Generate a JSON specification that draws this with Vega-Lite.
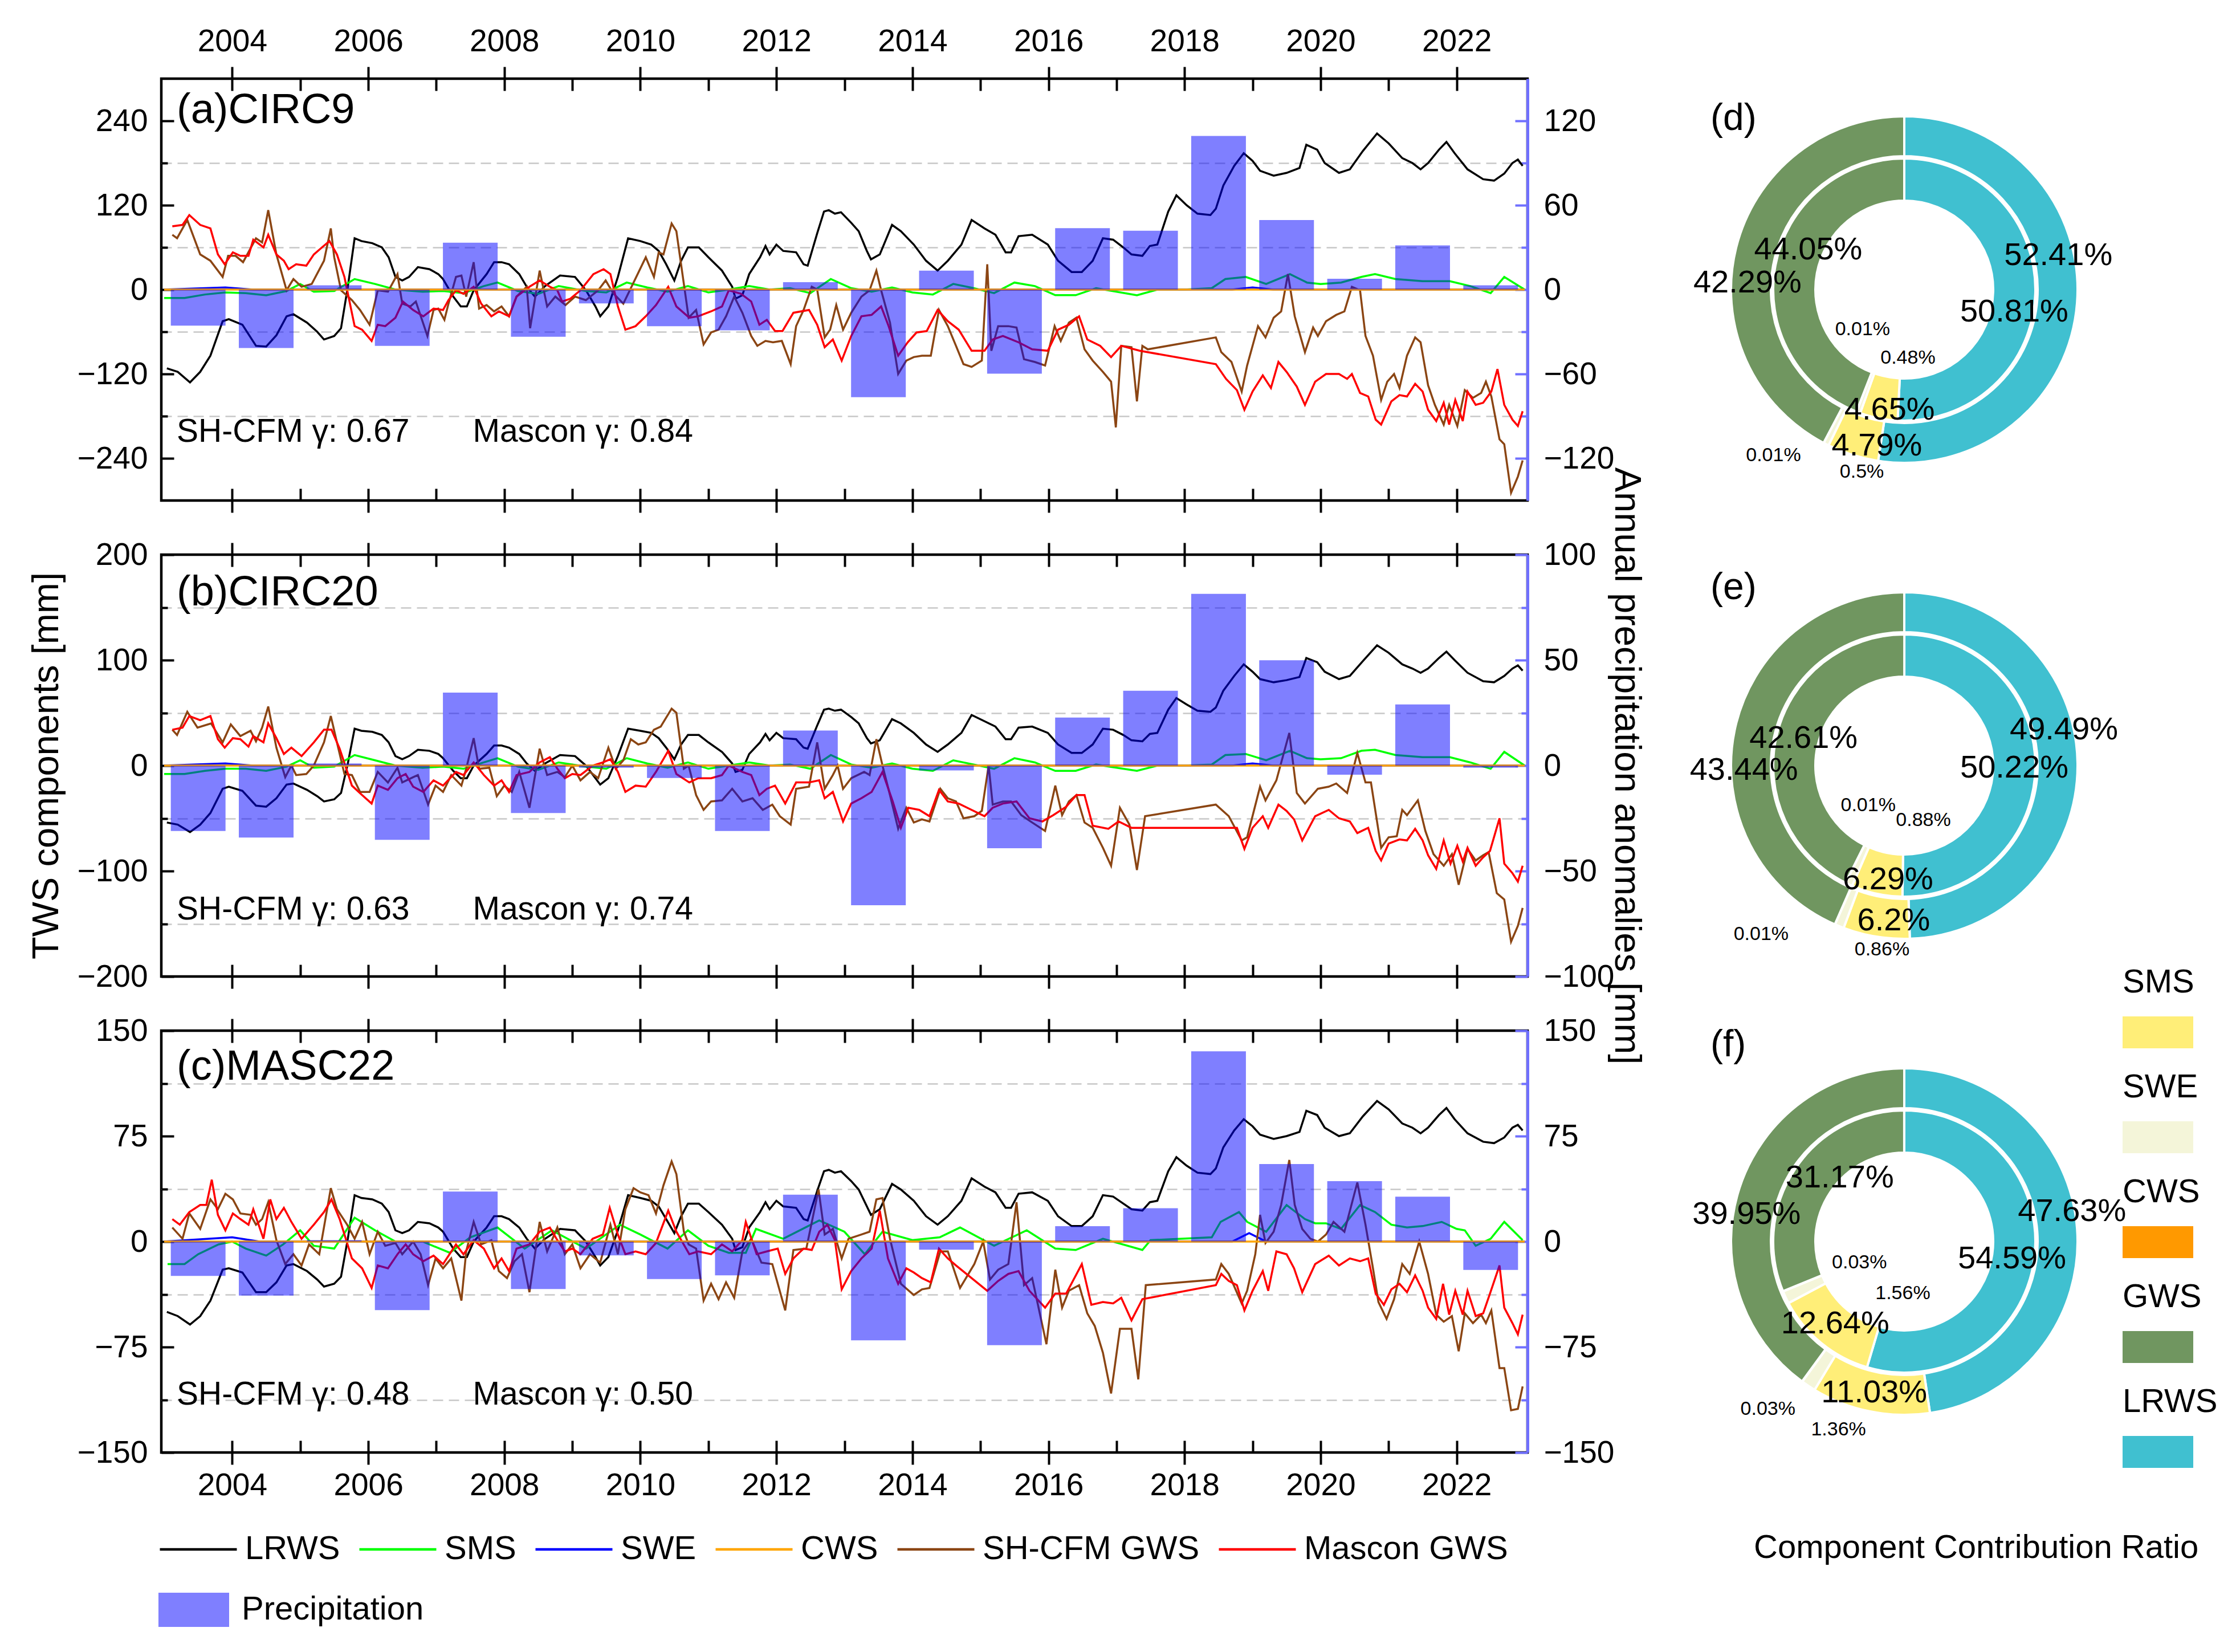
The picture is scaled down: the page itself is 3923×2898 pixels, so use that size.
{
"$schema":"https://vega.github.io/schema/vega-lite/v6.json",
"background":"white",
"padding":{"left":46,"top":42,"right":5,"bottom":5},
"config":{"font":"Liberation Sans","axis":{"labelFont":"Liberation Sans","titleFont":"Liberation Sans"},"legend":{"labelFont":"Liberation Sans","titleFont":"Liberation Sans"},"title":{"font":"Liberation Sans","subtitleFont":"Liberation Sans"},"text":{"font":"Liberation Sans"}},
"datasets":{
"aL":[{"t":2003.04,"v":-112},{"t":2003.2,"v":-117},{"t":2003.38,"v":-132},{"t":2003.53,"v":-117},{"t":2003.68,"v":-94},{"t":2003.86,"v":-45},{"t":2003.95,"v":-42},{"t":2004.15,"v":-50},{"t":2004.35,"v":-80},{"t":2004.5,"v":-81},{"t":2004.65,"v":-65},{"t":2004.8,"v":-38},{"t":2004.9,"v":-35},{"t":2005.1,"v":-47},{"t":2005.25,"v":-60},{"t":2005.35,"v":-71},{"t":2005.5,"v":-66},{"t":2005.6,"v":-55},{"t":2005.7,"v":4},{"t":2005.8,"v":73},{"t":2005.9,"v":69},{"t":2006.06,"v":66},{"t":2006.2,"v":60},{"t":2006.3,"v":46},{"t":2006.4,"v":18},{"t":2006.5,"v":13},{"t":2006.6,"v":18},{"t":2006.73,"v":32},{"t":2006.9,"v":29},{"t":2007.03,"v":22},{"t":2007.1,"v":15},{"t":2007.25,"v":-10},{"t":2007.36,"v":-24},{"t":2007.45,"v":-24},{"t":2007.55,"v":-1},{"t":2007.74,"v":22},{"t":2007.85,"v":39},{"t":2007.96,"v":39},{"t":2008.07,"v":36},{"t":2008.22,"v":22},{"t":2008.33,"v":4},{"t":2008.45,"v":-10},{"t":2008.6,"v":5},{"t":2008.82,"v":20},{"t":2009.04,"v":18},{"t":2009.2,"v":-1},{"t":2009.34,"v":-24},{"t":2009.41,"v":-38},{"t":2009.53,"v":-24},{"t":2009.67,"v":18},{"t":2009.82,"v":73},{"t":2010.0,"v":69},{"t":2010.16,"v":64},{"t":2010.27,"v":55},{"t":2010.38,"v":36},{"t":2010.5,"v":13},{"t":2010.6,"v":41},{"t":2010.7,"v":60},{"t":2010.86,"v":60},{"t":2011.0,"v":46},{"t":2011.2,"v":27},{"t":2011.35,"v":4},{"t":2011.4,"v":-13},{"t":2011.5,"v":-8},{"t":2011.6,"v":22},{"t":2011.76,"v":46},{"t":2011.84,"v":62},{"t":2011.9,"v":50},{"t":2012.0,"v":64},{"t":2012.1,"v":55},{"t":2012.29,"v":53},{"t":2012.4,"v":36},{"t":2012.46,"v":34},{"t":2012.6,"v":80},{"t":2012.7,"v":111},{"t":2012.77,"v":113},{"t":2012.86,"v":108},{"t":2012.95,"v":110},{"t":2013.1,"v":95},{"t":2013.21,"v":83},{"t":2013.33,"v":55},{"t":2013.39,"v":43},{"t":2013.52,"v":50},{"t":2013.7,"v":92},{"t":2013.83,"v":83},{"t":2014.02,"v":64},{"t":2014.2,"v":41},{"t":2014.37,"v":27},{"t":2014.52,"v":41},{"t":2014.72,"v":64},{"t":2014.87,"v":99},{"t":2015.06,"v":87},{"t":2015.22,"v":78},{"t":2015.37,"v":53},{"t":2015.45,"v":53},{"t":2015.56,"v":76},{"t":2015.76,"v":78},{"t":2015.99,"v":64},{"t":2016.14,"v":41},{"t":2016.34,"v":25},{"t":2016.49,"v":25},{"t":2016.65,"v":41},{"t":2016.8,"v":73},{"t":2016.95,"v":71},{"t":2017.1,"v":60},{"t":2017.22,"v":50},{"t":2017.38,"v":48},{"t":2017.49,"v":62},{"t":2017.6,"v":64},{"t":2017.76,"v":111},{"t":2017.88,"v":134},{"t":2018.03,"v":120},{"t":2018.19,"v":108},{"t":2018.38,"v":106},{"t":2018.46,"v":115},{"t":2018.57,"v":148},{"t":2018.73,"v":176},{"t":2018.87,"v":194},{"t":2019.0,"v":183},{"t":2019.11,"v":169},{"t":2019.31,"v":162},{"t":2019.5,"v":166},{"t":2019.69,"v":173},{"t":2019.79,"v":206},{"t":2019.95,"v":199},{"t":2020.06,"v":180},{"t":2020.27,"v":166},{"t":2020.43,"v":171},{"t":2020.62,"v":197},{"t":2020.83,"v":222},{"t":2021.0,"v":208},{"t":2021.2,"v":187},{"t":2021.35,"v":180},{"t":2021.47,"v":171},{"t":2021.58,"v":180},{"t":2021.74,"v":199},{"t":2021.85,"v":210},{"t":2021.97,"v":194},{"t":2022.16,"v":171},{"t":2022.39,"v":157},{"t":2022.55,"v":155},{"t":2022.7,"v":165},{"t":2022.82,"v":180},{"t":2022.9,"v":185},{"t":2022.97,"v":176}],
"bL":[{"t":2003.04,"v":-54},{"t":2003.2,"v":-56},{"t":2003.38,"v":-63},{"t":2003.53,"v":-56},{"t":2003.68,"v":-45},{"t":2003.86,"v":-22},{"t":2003.95,"v":-20},{"t":2004.15,"v":-24},{"t":2004.35,"v":-38},{"t":2004.5,"v":-39},{"t":2004.65,"v":-31},{"t":2004.8,"v":-18},{"t":2004.9,"v":-17},{"t":2005.1,"v":-23},{"t":2005.25,"v":-29},{"t":2005.35,"v":-34},{"t":2005.5,"v":-32},{"t":2005.6,"v":-26},{"t":2005.7,"v":2},{"t":2005.8,"v":35},{"t":2005.9,"v":33},{"t":2006.06,"v":32},{"t":2006.2,"v":29},{"t":2006.3,"v":22},{"t":2006.4,"v":9},{"t":2006.5,"v":6},{"t":2006.6,"v":9},{"t":2006.73,"v":15},{"t":2006.9,"v":14},{"t":2007.03,"v":11},{"t":2007.1,"v":7},{"t":2007.25,"v":-5},{"t":2007.36,"v":-12},{"t":2007.45,"v":-12},{"t":2007.55,"v":0},{"t":2007.74,"v":11},{"t":2007.85,"v":19},{"t":2007.96,"v":19},{"t":2008.07,"v":17},{"t":2008.22,"v":11},{"t":2008.33,"v":2},{"t":2008.45,"v":-5},{"t":2008.6,"v":2},{"t":2008.82,"v":10},{"t":2009.04,"v":9},{"t":2009.2,"v":0},{"t":2009.34,"v":-12},{"t":2009.41,"v":-18},{"t":2009.53,"v":-12},{"t":2009.67,"v":9},{"t":2009.82,"v":35},{"t":2010.0,"v":33},{"t":2010.16,"v":31},{"t":2010.27,"v":26},{"t":2010.38,"v":17},{"t":2010.5,"v":6},{"t":2010.6,"v":20},{"t":2010.7,"v":29},{"t":2010.86,"v":29},{"t":2011.0,"v":22},{"t":2011.2,"v":13},{"t":2011.35,"v":2},{"t":2011.4,"v":-6},{"t":2011.5,"v":-4},{"t":2011.6,"v":11},{"t":2011.76,"v":22},{"t":2011.84,"v":30},{"t":2011.9,"v":24},{"t":2012.0,"v":31},{"t":2012.1,"v":26},{"t":2012.29,"v":25},{"t":2012.4,"v":17},{"t":2012.46,"v":16},{"t":2012.6,"v":38},{"t":2012.7,"v":53},{"t":2012.77,"v":54},{"t":2012.86,"v":52},{"t":2012.95,"v":53},{"t":2013.1,"v":46},{"t":2013.21,"v":40},{"t":2013.33,"v":26},{"t":2013.39,"v":21},{"t":2013.52,"v":24},{"t":2013.7,"v":44},{"t":2013.83,"v":40},{"t":2014.02,"v":31},{"t":2014.2,"v":20},{"t":2014.37,"v":13},{"t":2014.52,"v":20},{"t":2014.72,"v":31},{"t":2014.87,"v":48},{"t":2015.06,"v":42},{"t":2015.22,"v":37},{"t":2015.37,"v":25},{"t":2015.45,"v":25},{"t":2015.56,"v":36},{"t":2015.76,"v":37},{"t":2015.99,"v":31},{"t":2016.14,"v":20},{"t":2016.34,"v":12},{"t":2016.49,"v":12},{"t":2016.65,"v":20},{"t":2016.8,"v":35},{"t":2016.95,"v":34},{"t":2017.1,"v":29},{"t":2017.22,"v":24},{"t":2017.38,"v":23},{"t":2017.49,"v":30},{"t":2017.6,"v":31},{"t":2017.76,"v":53},{"t":2017.88,"v":64},{"t":2018.03,"v":58},{"t":2018.19,"v":52},{"t":2018.38,"v":51},{"t":2018.46,"v":55},{"t":2018.57,"v":71},{"t":2018.73,"v":85},{"t":2018.87,"v":96},{"t":2019.0,"v":89},{"t":2019.11,"v":82},{"t":2019.31,"v":79},{"t":2019.5,"v":81},{"t":2019.69,"v":84},{"t":2019.79,"v":102},{"t":2019.95,"v":98},{"t":2020.06,"v":89},{"t":2020.27,"v":82},{"t":2020.43,"v":85},{"t":2020.62,"v":99},{"t":2020.83,"v":114},{"t":2021.0,"v":107},{"t":2021.2,"v":96},{"t":2021.35,"v":92},{"t":2021.47,"v":88},{"t":2021.58,"v":92},{"t":2021.74,"v":102},{"t":2021.85,"v":108},{"t":2021.97,"v":100},{"t":2022.16,"v":88},{"t":2022.39,"v":80},{"t":2022.55,"v":79},{"t":2022.7,"v":85},{"t":2022.82,"v":92},{"t":2022.9,"v":95},{"t":2022.97,"v":90}],
"cL":[{"t":2003.04,"v":-50},{"t":2003.2,"v":-53},{"t":2003.38,"v":-59},{"t":2003.53,"v":-53},{"t":2003.68,"v":-42},{"t":2003.86,"v":-20},{"t":2003.95,"v":-19},{"t":2004.15,"v":-22},{"t":2004.35,"v":-36},{"t":2004.5,"v":-36},{"t":2004.65,"v":-29},{"t":2004.8,"v":-17},{"t":2004.9,"v":-16},{"t":2005.1,"v":-21},{"t":2005.25,"v":-27},{"t":2005.35,"v":-32},{"t":2005.5,"v":-30},{"t":2005.6,"v":-25},{"t":2005.7,"v":2},{"t":2005.8,"v":33},{"t":2005.9,"v":31},{"t":2006.06,"v":30},{"t":2006.2,"v":27},{"t":2006.3,"v":21},{"t":2006.4,"v":8},{"t":2006.5,"v":6},{"t":2006.6,"v":8},{"t":2006.73,"v":14},{"t":2006.9,"v":13},{"t":2007.03,"v":10},{"t":2007.1,"v":7},{"t":2007.25,"v":-5},{"t":2007.36,"v":-11},{"t":2007.45,"v":-11},{"t":2007.55,"v":0},{"t":2007.74,"v":10},{"t":2007.85,"v":18},{"t":2007.96,"v":18},{"t":2008.07,"v":16},{"t":2008.22,"v":10},{"t":2008.33,"v":2},{"t":2008.45,"v":-5},{"t":2008.6,"v":2},{"t":2008.82,"v":9},{"t":2009.04,"v":8},{"t":2009.2,"v":0},{"t":2009.34,"v":-11},{"t":2009.41,"v":-17},{"t":2009.53,"v":-11},{"t":2009.67,"v":8},{"t":2009.82,"v":33},{"t":2010.0,"v":31},{"t":2010.16,"v":29},{"t":2010.27,"v":25},{"t":2010.38,"v":16},{"t":2010.5,"v":6},{"t":2010.6,"v":18},{"t":2010.7,"v":27},{"t":2010.86,"v":27},{"t":2011.0,"v":21},{"t":2011.2,"v":12},{"t":2011.35,"v":2},{"t":2011.4,"v":-6},{"t":2011.5,"v":-4},{"t":2011.6,"v":10},{"t":2011.76,"v":21},{"t":2011.84,"v":28},{"t":2011.9,"v":23},{"t":2012.0,"v":29},{"t":2012.1,"v":25},{"t":2012.29,"v":24},{"t":2012.4,"v":16},{"t":2012.46,"v":15},{"t":2012.6,"v":36},{"t":2012.7,"v":50},{"t":2012.77,"v":51},{"t":2012.86,"v":49},{"t":2012.95,"v":50},{"t":2013.1,"v":43},{"t":2013.21,"v":37},{"t":2013.33,"v":25},{"t":2013.39,"v":19},{"t":2013.52,"v":23},{"t":2013.7,"v":41},{"t":2013.83,"v":37},{"t":2014.02,"v":29},{"t":2014.2,"v":18},{"t":2014.37,"v":12},{"t":2014.52,"v":18},{"t":2014.72,"v":29},{"t":2014.87,"v":45},{"t":2015.06,"v":39},{"t":2015.22,"v":35},{"t":2015.37,"v":24},{"t":2015.45,"v":24},{"t":2015.56,"v":34},{"t":2015.76,"v":35},{"t":2015.99,"v":29},{"t":2016.14,"v":18},{"t":2016.34,"v":11},{"t":2016.49,"v":11},{"t":2016.65,"v":18},{"t":2016.8,"v":33},{"t":2016.95,"v":32},{"t":2017.1,"v":27},{"t":2017.22,"v":23},{"t":2017.38,"v":22},{"t":2017.49,"v":28},{"t":2017.6,"v":29},{"t":2017.76,"v":50},{"t":2017.88,"v":60},{"t":2018.03,"v":54},{"t":2018.19,"v":49},{"t":2018.38,"v":48},{"t":2018.46,"v":52},{"t":2018.57,"v":67},{"t":2018.73,"v":79},{"t":2018.87,"v":87},{"t":2019.0,"v":82},{"t":2019.11,"v":76},{"t":2019.31,"v":73},{"t":2019.5,"v":75},{"t":2019.69,"v":78},{"t":2019.79,"v":93},{"t":2019.95,"v":90},{"t":2020.06,"v":81},{"t":2020.27,"v":75},{"t":2020.43,"v":77},{"t":2020.62,"v":89},{"t":2020.83,"v":100},{"t":2021.0,"v":94},{"t":2021.2,"v":84},{"t":2021.35,"v":81},{"t":2021.47,"v":77},{"t":2021.58,"v":81},{"t":2021.74,"v":90},{"t":2021.85,"v":95},{"t":2021.97,"v":87},{"t":2022.16,"v":77},{"t":2022.39,"v":71},{"t":2022.55,"v":70},{"t":2022.7,"v":74},{"t":2022.82,"v":81},{"t":2022.9,"v":83},{"t":2022.97,"v":79}],
"aS":[{"t":2003.0,"v":-12},{"t":2003.3,"v":-12},{"t":2003.6,"v":-7},{"t":2003.9,"v":-4},{"t":2004.2,"v":-5},{"t":2004.5,"v":-8},{"t":2004.8,"v":-2},{"t":2005.0,"v":8},{"t":2005.2,"v":-3},{"t":2005.5,"v":-2},{"t":2005.8,"v":15},{"t":2006.1,"v":8},{"t":2006.4,"v":0},{"t":2006.8,"v":-3},{"t":2007.1,"v":-2},{"t":2007.4,"v":-5},{"t":2007.7,"v":5},{"t":2007.9,"v":10},{"t":2008.2,"v":-2},{"t":2008.5,"v":-6},{"t":2008.8,"v":5},{"t":2009.2,"v":-2},{"t":2009.5,"v":-4},{"t":2009.8,"v":10},{"t":2010.1,"v":3},{"t":2010.4,"v":-3},{"t":2010.7,"v":5},{"t":2011.0,"v":-4},{"t":2011.3,"v":0},{"t":2011.6,"v":5},{"t":2011.9,"v":0},{"t":2012.2,"v":2},{"t":2012.5,"v":-5},{"t":2012.8,"v":15},{"t":2013.1,"v":2},{"t":2013.4,"v":-3},{"t":2013.7,"v":3},{"t":2014.0,"v":-4},{"t":2014.3,"v":-7},{"t":2014.6,"v":8},{"t":2014.9,"v":2},{"t":2015.2,"v":-5},{"t":2015.5,"v":10},{"t":2015.8,"v":5},{"t":2016.1,"v":-8},{"t":2016.4,"v":-8},{"t":2016.7,"v":2},{"t":2017.0,"v":-3},{"t":2017.3,"v":-8},{"t":2017.6,"v":0},{"t":2018.0,"v":0},{"t":2018.4,"v":2},{"t":2018.6,"v":15},{"t":2018.9,"v":18},{"t":2019.2,"v":8},{"t":2019.55,"v":22},{"t":2019.8,"v":10},{"t":2020.0,"v":8},{"t":2020.3,"v":10},{"t":2020.6,"v":18},{"t":2020.8,"v":22},{"t":2021.1,"v":15},{"t":2021.5,"v":12},{"t":2021.9,"v":12},{"t":2022.2,"v":5},{"t":2022.5,"v":-5},{"t":2022.7,"v":18},{"t":2023.0,"v":0}],
"bS":[{"t":2003.0,"v":-8},{"t":2003.3,"v":-8},{"t":2003.6,"v":-5},{"t":2003.9,"v":-3},{"t":2004.2,"v":-3},{"t":2004.5,"v":-5},{"t":2004.8,"v":-1},{"t":2005.0,"v":5},{"t":2005.2,"v":-2},{"t":2005.5,"v":-1},{"t":2005.8,"v":10},{"t":2006.1,"v":5},{"t":2006.4,"v":0},{"t":2006.8,"v":-2},{"t":2007.1,"v":-1},{"t":2007.4,"v":-3},{"t":2007.7,"v":3},{"t":2007.9,"v":7},{"t":2008.2,"v":-1},{"t":2008.5,"v":-4},{"t":2008.8,"v":3},{"t":2009.2,"v":-1},{"t":2009.5,"v":-3},{"t":2009.8,"v":7},{"t":2010.1,"v":2},{"t":2010.4,"v":-2},{"t":2010.7,"v":3},{"t":2011.0,"v":-3},{"t":2011.3,"v":0},{"t":2011.6,"v":3},{"t":2011.9,"v":0},{"t":2012.2,"v":1},{"t":2012.5,"v":-3},{"t":2012.8,"v":10},{"t":2013.1,"v":1},{"t":2013.4,"v":-2},{"t":2013.7,"v":2},{"t":2014.0,"v":-3},{"t":2014.3,"v":-5},{"t":2014.6,"v":5},{"t":2014.9,"v":1},{"t":2015.2,"v":-3},{"t":2015.5,"v":7},{"t":2015.8,"v":3},{"t":2016.1,"v":-5},{"t":2016.4,"v":-5},{"t":2016.7,"v":1},{"t":2017.0,"v":-2},{"t":2017.3,"v":-5},{"t":2017.6,"v":0},{"t":2018.0,"v":0},{"t":2018.4,"v":1},{"t":2018.6,"v":10},{"t":2018.9,"v":11},{"t":2019.2,"v":5},{"t":2019.55,"v":14},{"t":2019.8,"v":7},{"t":2020.0,"v":6},{"t":2020.3,"v":7},{"t":2020.6,"v":14},{"t":2020.8,"v":15},{"t":2021.1,"v":10},{"t":2021.5,"v":8},{"t":2021.9,"v":8},{"t":2022.2,"v":3},{"t":2022.5,"v":-3},{"t":2022.7,"v":13},{"t":2023.0,"v":0}],
"cS":[{"t":2003.05,"v":-16},{"t":2003.3,"v":-16},{"t":2003.5,"v":-9},{"t":2003.8,"v":-2},{"t":2004.0,"v":0},{"t":2004.2,"v":-5},{"t":2004.5,"v":-10},{"t":2004.75,"v":-2},{"t":2005.0,"v":8},{"t":2005.2,"v":-3},{"t":2005.5,"v":-5},{"t":2005.8,"v":17},{"t":2006.1,"v":8},{"t":2006.4,"v":0},{"t":2006.8,"v":0},{"t":2007.2,"v":-8},{"t":2007.5,"v":3},{"t":2007.9,"v":10},{"t":2008.3,"v":-5},{"t":2008.7,"v":8},{"t":2009.2,"v":-5},{"t":2009.7,"v":12},{"t":2010.0,"v":5},{"t":2010.4,"v":-5},{"t":2010.7,"v":8},{"t":2011.0,"v":-3},{"t":2011.3,"v":-8},{"t":2011.55,"v":-8},{"t":2011.7,"v":9},{"t":2012.1,"v":2},{"t":2012.63,"v":15},{"t":2013.0,"v":7},{"t":2013.3,"v":-9},{"t":2013.56,"v":7},{"t":2014.0,"v":1},{"t":2014.4,"v":3},{"t":2014.7,"v":10},{"t":2015.2,"v":-3},{"t":2015.68,"v":8},{"t":2016.1,"v":-5},{"t":2016.4,"v":-6},{"t":2016.8,"v":2},{"t":2017.38,"v":-6},{"t":2017.5,"v":1},{"t":2018.4,"v":3},{"t":2018.53,"v":14},{"t":2018.8,"v":21},{"t":2018.92,"v":14},{"t":2019.2,"v":7},{"t":2019.5,"v":26},{"t":2019.77,"v":16},{"t":2019.92,"v":13},{"t":2020.08,"v":13},{"t":2020.3,"v":9},{"t":2020.58,"v":26},{"t":2020.8,"v":21},{"t":2021.04,"v":12},{"t":2021.27,"v":10},{"t":2021.5,"v":11},{"t":2021.78,"v":14},{"t":2022.0,"v":9},{"t":2022.12,"v":8},{"t":2022.28,"v":-3},{"t":2022.5,"v":2},{"t":2022.7,"v":14},{"t":2022.97,"v":1}],
"aW":[{"t":2003.0,"v":0},{"t":2003.9,"v":3},{"t":2004.3,"v":0},{"t":2018.7,"v":0},{"t":2019.0,"v":3},{"t":2019.3,"v":0},{"t":2023.0,"v":0}],
"bW":[{"t":2003.0,"v":0},{"t":2003.9,"v":2},{"t":2004.3,"v":0},{"t":2018.7,"v":0},{"t":2019.0,"v":2},{"t":2019.3,"v":0},{"t":2023.0,"v":0}],
"cW":[{"t":2003.0,"v":0},{"t":2004.0,"v":3},{"t":2004.4,"v":0},{"t":2018.7,"v":0},{"t":2018.95,"v":6},{"t":2019.2,"v":0},{"t":2023.0,"v":0}],
"zC":[{"t":2003.0,"v":0},{"t":2023.0,"v":0}],
"aB":[{"t":2003.12,"v":78},{"t":2003.19,"v":73},{"t":2003.34,"v":99},{"t":2003.53,"v":50},{"t":2003.68,"v":41},{"t":2003.86,"v":18},{"t":2003.94,"v":48},{"t":2004.05,"v":48},{"t":2004.16,"v":39},{"t":2004.35,"v":73},{"t":2004.44,"v":67},{"t":2004.53,"v":113},{"t":2004.65,"v":50},{"t":2004.8,"v":-1},{"t":2004.9,"v":15},{"t":2005.02,"v":4},{"t":2005.17,"v":8},{"t":2005.35,"v":41},{"t":2005.45,"v":87},{"t":2005.5,"v":46},{"t":2005.6,"v":-1},{"t":2005.76,"v":-15},{"t":2005.88,"v":-29},{"t":2006.02,"v":-50},{"t":2006.14,"v":-1},{"t":2006.29,"v":-3},{"t":2006.43,"v":22},{"t":2006.5,"v":-20},{"t":2006.62,"v":-24},{"t":2006.7,"v":-17},{"t":2006.87,"v":-66},{"t":2006.96,"v":-29},{"t":2007.03,"v":-27},{"t":2007.12,"v":-43},{"t":2007.18,"v":-20},{"t":2007.29,"v":18},{"t":2007.37,"v":20},{"t":2007.44,"v":-10},{"t":2007.55,"v":39},{"t":2007.63,"v":-27},{"t":2007.74,"v":-22},{"t":2007.85,"v":-31},{"t":2007.96,"v":-24},{"t":2008.07,"v":-38},{"t":2008.18,"v":-10},{"t":2008.33,"v":4},{"t":2008.38,"v":-55},{"t":2008.52,"v":27},{"t":2008.63,"v":-24},{"t":2008.75,"v":-10},{"t":2008.9,"v":-22},{"t":2009.04,"v":-10},{"t":2009.2,"v":-15},{"t":2009.38,"v":-1},{"t":2009.49,"v":13},{"t":2009.6,"v":-5},{"t":2009.75,"v":-20},{"t":2009.9,"v":10},{"t":2010.08,"v":46},{"t":2010.2,"v":18},{"t":2010.27,"v":53},{"t":2010.34,"v":50},{"t":2010.46,"v":94},{"t":2010.53,"v":83},{"t":2010.64,"v":8},{"t":2010.71,"v":-40},{"t":2010.82,"v":-29},{"t":2010.93,"v":-78},{"t":2011.04,"v":-61},{"t":2011.15,"v":-57},{"t":2011.26,"v":-38},{"t":2011.38,"v":-10},{"t":2011.5,"v":-33},{"t":2011.63,"v":-66},{"t":2011.72,"v":-80},{"t":2011.84,"v":-73},{"t":2011.95,"v":-75},{"t":2012.08,"v":-73},{"t":2012.21,"v":-106},{"t":2012.29,"v":-52},{"t":2012.4,"v":-29},{"t":2012.52,"v":4},{"t":2012.6,"v":0},{"t":2012.71,"v":-68},{"t":2012.79,"v":-57},{"t":2012.88,"v":-22},{"t":2012.98,"v":-57},{"t":2013.1,"v":-33},{"t":2013.25,"v":-10},{"t":2013.37,"v":-1},{"t":2013.47,"v":27},{"t":2013.54,"v":-1},{"t":2013.67,"v":-47},{"t":2013.79,"v":-120},{"t":2013.91,"v":-101},{"t":2014.02,"v":-96},{"t":2014.14,"v":-94},{"t":2014.27,"v":-94},{"t":2014.39,"v":-29},{"t":2014.52,"v":-52},{"t":2014.64,"v":-80},{"t":2014.75,"v":-106},{"t":2014.87,"v":-110},{"t":2015.02,"v":-101},{"t":2015.1,"v":36},{"t":2015.16,"v":-87},{"t":2015.26,"v":-52},{"t":2015.41,"v":-52},{"t":2015.53,"v":-54},{"t":2015.64,"v":-99},{"t":2015.8,"v":-103},{"t":2015.95,"v":-108},{"t":2016.09,"v":-52},{"t":2016.18,"v":-73},{"t":2016.3,"v":-47},{"t":2016.41,"v":-40},{"t":2016.53,"v":-85},{"t":2016.65,"v":-101},{"t":2016.8,"v":-117},{"t":2016.92,"v":-131},{"t":2016.99,"v":-196},{"t":2017.07,"v":-80},{"t":2017.22,"v":-82},{"t":2017.3,"v":-159},{"t":2017.38,"v":-80},{"t":2017.46,"v":-85},{"t":2018.46,"v":-68},{"t":2018.54,"v":-89},{"t":2018.69,"v":-103},{"t":2018.84,"v":-145},{"t":2018.92,"v":-108},{"t":2019.08,"v":-52},{"t":2019.19,"v":-68},{"t":2019.31,"v":-40},{"t":2019.42,"v":-31},{"t":2019.52,"v":22},{"t":2019.62,"v":-38},{"t":2019.77,"v":-89},{"t":2019.89,"v":-54},{"t":2019.96,"v":-66},{"t":2020.08,"v":-45},{"t":2020.23,"v":-36},{"t":2020.35,"v":-31},{"t":2020.46,"v":4},{"t":2020.58,"v":-1},{"t":2020.66,"v":-66},{"t":2020.77,"v":-94},{"t":2020.89,"v":-157},{"t":2020.98,"v":-131},{"t":2021.08,"v":-120},{"t":2021.16,"v":-140},{"t":2021.27,"v":-94},{"t":2021.39,"v":-68},{"t":2021.47,"v":-75},{"t":2021.58,"v":-136},{"t":2021.68,"v":-164},{"t":2021.81,"v":-192},{"t":2021.89,"v":-164},{"t":2022.01,"v":-194},{"t":2022.12,"v":-143},{"t":2022.24,"v":-154},{"t":2022.36,"v":-147},{"t":2022.43,"v":-131},{"t":2022.51,"v":-152},{"t":2022.63,"v":-213},{"t":2022.7,"v":-220},{"t":2022.8,"v":-289},{"t":2022.9,"v":-266},{"t":2022.97,"v":-243}],
"aR":[{"t":2003.12,"v":90},{"t":2003.27,"v":92},{"t":2003.37,"v":106},{"t":2003.53,"v":92},{"t":2003.68,"v":87},{"t":2003.79,"v":50},{"t":2003.89,"v":36},{"t":2004.01,"v":53},{"t":2004.12,"v":48},{"t":2004.24,"v":48},{"t":2004.31,"v":71},{"t":2004.46,"v":60},{"t":2004.53,"v":78},{"t":2004.65,"v":50},{"t":2004.76,"v":41},{"t":2004.83,"v":29},{"t":2004.94,"v":36},{"t":2005.09,"v":34},{"t":2005.2,"v":50},{"t":2005.32,"v":60},{"t":2005.43,"v":69},{"t":2005.54,"v":50},{"t":2005.65,"v":18},{"t":2005.8,"v":-52},{"t":2005.91,"v":-57},{"t":2006.05,"v":-73},{"t":2006.14,"v":-50},{"t":2006.25,"v":-52},{"t":2006.4,"v":-40},{"t":2006.51,"v":-17},{"t":2006.66,"v":-29},{"t":2006.81,"v":-38},{"t":2006.96,"v":-27},{"t":2007.1,"v":-29},{"t":2007.18,"v":-15},{"t":2007.29,"v":-1},{"t":2007.4,"v":-6},{"t":2007.55,"v":4},{"t":2007.66,"v":-20},{"t":2007.81,"v":-38},{"t":2007.92,"v":-31},{"t":2008.07,"v":-38},{"t":2008.18,"v":-10},{"t":2008.37,"v":4},{"t":2008.52,"v":13},{"t":2008.67,"v":4},{"t":2008.78,"v":-1},{"t":2008.85,"v":-17},{"t":2008.97,"v":-13},{"t":2009.12,"v":-1},{"t":2009.31,"v":22},{"t":2009.46,"v":29},{"t":2009.56,"v":22},{"t":2009.67,"v":-24},{"t":2009.78,"v":-57},{"t":2009.93,"v":-52},{"t":2010.08,"v":-38},{"t":2010.23,"v":-22},{"t":2010.41,"v":4},{"t":2010.53,"v":-24},{"t":2010.72,"v":-40},{"t":2010.85,"v":-38},{"t":2011.04,"v":-31},{"t":2011.2,"v":-24},{"t":2011.3,"v":-1},{"t":2011.48,"v":-6},{"t":2011.63,"v":-17},{"t":2011.75,"v":-50},{"t":2011.86,"v":-43},{"t":2011.98,"v":-59},{"t":2012.09,"v":-59},{"t":2012.25,"v":-33},{"t":2012.48,"v":-29},{"t":2012.6,"v":-50},{"t":2012.71,"v":-82},{"t":2012.83,"v":-71},{"t":2012.96,"v":-101},{"t":2013.1,"v":-66},{"t":2013.25,"v":-38},{"t":2013.4,"v":-36},{"t":2013.54,"v":-24},{"t":2013.65,"v":-52},{"t":2013.79,"v":-94},{"t":2013.93,"v":-75},{"t":2014.06,"v":-61},{"t":2014.21,"v":-59},{"t":2014.37,"v":-29},{"t":2014.52,"v":-45},{"t":2014.68,"v":-57},{"t":2014.87,"v":-87},{"t":2015.06,"v":-87},{"t":2015.18,"v":-71},{"t":2015.33,"v":-66},{"t":2015.56,"v":-75},{"t":2015.76,"v":-85},{"t":2015.99,"v":-87},{"t":2016.14,"v":-57},{"t":2016.3,"v":-50},{"t":2016.45,"v":-38},{"t":2016.57,"v":-71},{"t":2016.76,"v":-80},{"t":2016.92,"v":-96},{"t":2017.07,"v":-80},{"t":2017.34,"v":-87},{"t":2018.46,"v":-106},{"t":2018.61,"v":-127},{"t":2018.77,"v":-143},{"t":2018.88,"v":-171},{"t":2019.0,"v":-145},{"t":2019.15,"v":-122},{"t":2019.27,"v":-140},{"t":2019.38,"v":-103},{"t":2019.5,"v":-117},{"t":2019.65,"v":-138},{"t":2019.77,"v":-164},{"t":2019.92,"v":-131},{"t":2020.08,"v":-120},{"t":2020.27,"v":-120},{"t":2020.39,"v":-127},{"t":2020.46,"v":-120},{"t":2020.58,"v":-147},{"t":2020.7,"v":-152},{"t":2020.81,"v":-185},{"t":2020.89,"v":-192},{"t":2021.04,"v":-159},{"t":2021.16,"v":-150},{"t":2021.27,"v":-152},{"t":2021.39,"v":-134},{"t":2021.5,"v":-145},{"t":2021.58,"v":-171},{"t":2021.7,"v":-187},{"t":2021.81,"v":-161},{"t":2021.89,"v":-192},{"t":2021.98,"v":-157},{"t":2022.09,"v":-187},{"t":2022.16,"v":-145},{"t":2022.28,"v":-164},{"t":2022.39,"v":-161},{"t":2022.51,"v":-145},{"t":2022.6,"v":-113},{"t":2022.7,"v":-164},{"t":2022.82,"v":-185},{"t":2022.9,"v":-194},{"t":2022.97,"v":-173}],
"bB":[{"t":2003.12,"v":34},{"t":2003.19,"v":29},{"t":2003.34,"v":51},{"t":2003.49,"v":36},{"t":2003.69,"v":40},{"t":2003.86,"v":22},{"t":2003.98,"v":39},{"t":2004.12,"v":28},{"t":2004.27,"v":33},{"t":2004.35,"v":23},{"t":2004.44,"v":36},{"t":2004.53,"v":56},{"t":2004.65,"v":17},{"t":2004.78,"v":-11},{"t":2004.87,"v":0},{"t":2004.94,"v":-9},{"t":2005.09,"v":-8},{"t":2005.2,"v":0},{"t":2005.35,"v":22},{"t":2005.45,"v":47},{"t":2005.54,"v":22},{"t":2005.65,"v":-8},{"t":2005.76,"v":-9},{"t":2005.88,"v":-25},{"t":2006.02,"v":-25},{"t":2006.14,"v":-6},{"t":2006.29,"v":-16},{"t":2006.43,"v":-2},{"t":2006.5,"v":-16},{"t":2006.66,"v":-11},{"t":2006.73,"v":-9},{"t":2006.88,"v":-37},{"t":2006.99,"v":-19},{"t":2007.1,"v":-25},{"t":2007.22,"v":-9},{"t":2007.37,"v":-19},{"t":2007.44,"v":-3},{"t":2007.55,"v":26},{"t":2007.63,"v":-3},{"t":2007.78,"v":-2},{"t":2007.89,"v":-29},{"t":2008.0,"v":-19},{"t":2008.11,"v":-25},{"t":2008.22,"v":-6},{"t":2008.37,"v":-40},{"t":2008.52,"v":16},{"t":2008.63,"v":-9},{"t":2008.78,"v":-6},{"t":2008.89,"v":-11},{"t":2009.0,"v":0},{"t":2009.12,"v":-14},{"t":2009.26,"v":-6},{"t":2009.38,"v":-12},{"t":2009.53,"v":17},{"t":2009.64,"v":-3},{"t":2009.75,"v":5},{"t":2009.86,"v":25},{"t":2009.97,"v":20},{"t":2010.08,"v":22},{"t":2010.2,"v":34},{"t":2010.3,"v":37},{"t":2010.46,"v":54},{"t":2010.53,"v":50},{"t":2010.64,"v":-3},{"t":2010.71,"v":0},{"t":2010.82,"v":-28},{"t":2010.93,"v":-42},{"t":2011.04,"v":-34},{"t":2011.2,"v":-33},{"t":2011.35,"v":-22},{"t":2011.5,"v":-34},{"t":2011.65,"v":-31},{"t":2011.8,"v":-42},{"t":2011.94,"v":-37},{"t":2012.05,"v":-48},{"t":2012.21,"v":-56},{"t":2012.29,"v":-22},{"t":2012.48,"v":-20},{"t":2012.6,"v":22},{"t":2012.71,"v":-22},{"t":2012.83,"v":-9},{"t":2012.9,"v":0},{"t":2012.98,"v":-22},{"t":2013.1,"v":-12},{"t":2013.29,"v":-6},{"t":2013.37,"v":-9},{"t":2013.47,"v":25},{"t":2013.56,"v":0},{"t":2013.67,"v":-28},{"t":2013.79,"v":-60},{"t":2013.91,"v":-40},{"t":2014.02,"v":-54},{"t":2014.14,"v":-51},{"t":2014.25,"v":-53},{"t":2014.41,"v":-22},{"t":2014.52,"v":-31},{"t":2014.64,"v":-34},{"t":2014.75,"v":-50},{"t":2014.91,"v":-48},{"t":2015.02,"v":-43},{"t":2015.12,"v":0},{"t":2015.18,"v":-37},{"t":2015.33,"v":-34},{"t":2015.45,"v":-34},{"t":2015.6,"v":-47},{"t":2015.76,"v":-54},{"t":2015.95,"v":-62},{"t":2016.1,"v":-19},{"t":2016.2,"v":-47},{"t":2016.3,"v":-34},{"t":2016.41,"v":-28},{"t":2016.53,"v":-54},{"t":2016.65,"v":-59},{"t":2016.8,"v":-78},{"t":2016.92,"v":-95},{"t":2017.05,"v":-40},{"t":2017.19,"v":-56},{"t":2017.3,"v":-99},{"t":2017.42,"v":-48},{"t":2018.46,"v":-37},{"t":2018.65,"v":-48},{"t":2018.84,"v":-71},{"t":2018.92,"v":-68},{"t":2019.11,"v":-20},{"t":2019.19,"v":-33},{"t":2019.35,"v":-14},{"t":2019.54,"v":31},{"t":2019.65,"v":-26},{"t":2019.77,"v":-36},{"t":2019.96,"v":-22},{"t":2020.12,"v":-20},{"t":2020.23,"v":-17},{"t":2020.39,"v":-26},{"t":2020.54,"v":12},{"t":2020.66,"v":-16},{"t":2020.74,"v":-16},{"t":2020.89,"v":-78},{"t":2021.0,"v":-68},{"t":2021.12,"v":-67},{"t":2021.2,"v":-42},{"t":2021.27,"v":-47},{"t":2021.43,"v":-33},{"t":2021.54,"v":-62},{"t":2021.66,"v":-84},{"t":2021.81,"v":-95},{"t":2021.93,"v":-84},{"t":2022.03,"v":-113},{"t":2022.16,"v":-79},{"t":2022.28,"v":-90},{"t":2022.39,"v":-85},{"t":2022.47,"v":-82},{"t":2022.59,"v":-121},{"t":2022.7,"v":-127},{"t":2022.8,"v":-167},{"t":2022.9,"v":-152},{"t":2022.97,"v":-135}],
"bR":[{"t":2003.12,"v":34},{"t":2003.27,"v":36},{"t":2003.37,"v":47},{"t":2003.53,"v":43},{"t":2003.68,"v":47},{"t":2003.79,"v":25},{"t":2003.89,"v":17},{"t":2004.01,"v":26},{"t":2004.12,"v":25},{"t":2004.24,"v":18},{"t":2004.31,"v":28},{"t":2004.46,"v":22},{"t":2004.53,"v":40},{"t":2004.65,"v":26},{"t":2004.76,"v":11},{"t":2004.87,"v":17},{"t":2005.02,"v":9},{"t":2005.2,"v":22},{"t":2005.35,"v":34},{"t":2005.46,"v":34},{"t":2005.58,"v":16},{"t":2005.76,"v":-19},{"t":2005.91,"v":-28},{"t":2006.05,"v":-36},{"t":2006.14,"v":-19},{"t":2006.29,"v":-23},{"t":2006.43,"v":-12},{"t":2006.55,"v":-8},{"t":2006.66,"v":-20},{"t":2006.81,"v":-25},{"t":2006.96,"v":-14},{"t":2007.1,"v":-19},{"t":2007.29,"v":-6},{"t":2007.4,"v":-9},{"t":2007.55,"v":3},{"t":2007.7,"v":-9},{"t":2007.85,"v":-19},{"t":2007.96,"v":-14},{"t":2008.07,"v":-25},{"t":2008.18,"v":-9},{"t":2008.37,"v":-6},{"t":2008.52,"v":3},{"t":2008.67,"v":8},{"t":2008.78,"v":-3},{"t":2008.89,"v":-12},{"t":2009.0,"v":-8},{"t":2009.12,"v":-9},{"t":2009.3,"v":0},{"t":2009.45,"v":3},{"t":2009.56,"v":6},{"t":2009.67,"v":-6},{"t":2009.78,"v":-25},{"t":2009.93,"v":-19},{"t":2010.08,"v":-20},{"t":2010.23,"v":-6},{"t":2010.41,"v":14},{"t":2010.53,"v":-8},{"t":2010.72,"v":-16},{"t":2010.85,"v":-12},{"t":2011.04,"v":-12},{"t":2011.2,"v":-9},{"t":2011.3,"v":0},{"t":2011.5,"v":-6},{"t":2011.63,"v":-9},{"t":2011.75,"v":-28},{"t":2011.86,"v":-22},{"t":2011.98,"v":-19},{"t":2012.13,"v":-36},{"t":2012.29,"v":-16},{"t":2012.48,"v":-16},{"t":2012.63,"v":-14},{"t":2012.71,"v":-31},{"t":2012.83,"v":-25},{"t":2012.98,"v":-53},{"t":2013.1,"v":-36},{"t":2013.25,"v":-31},{"t":2013.4,"v":-25},{"t":2013.56,"v":-6},{"t":2013.71,"v":-34},{"t":2013.83,"v":-59},{"t":2013.94,"v":-40},{"t":2014.1,"v":-42},{"t":2014.25,"v":-48},{"t":2014.39,"v":-23},{"t":2014.52,"v":-34},{"t":2014.68,"v":-36},{"t":2014.87,"v":-42},{"t":2015.06,"v":-48},{"t":2015.18,"v":-40},{"t":2015.33,"v":-36},{"t":2015.53,"v":-34},{"t":2015.72,"v":-50},{"t":2015.91,"v":-53},{"t":2016.07,"v":-47},{"t":2016.26,"v":-39},{"t":2016.41,"v":-28},{"t":2016.53,"v":-28},{"t":2016.65,"v":-57},{"t":2016.88,"v":-60},{"t":2017.03,"v":-53},{"t":2017.22,"v":-59},{"t":2017.38,"v":-59},{"t":2018.77,"v":-59},{"t":2018.88,"v":-79},{"t":2019.0,"v":-59},{"t":2019.15,"v":-48},{"t":2019.23,"v":-59},{"t":2019.38,"v":-37},{"t":2019.5,"v":-43},{"t":2019.61,"v":-51},{"t":2019.73,"v":-71},{"t":2019.92,"v":-48},{"t":2020.12,"v":-42},{"t":2020.27,"v":-50},{"t":2020.43,"v":-53},{"t":2020.54,"v":-64},{"t":2020.7,"v":-59},{"t":2020.81,"v":-81},{"t":2020.89,"v":-90},{"t":2021.0,"v":-74},{"t":2021.16,"v":-70},{"t":2021.27,"v":-71},{"t":2021.39,"v":-60},{"t":2021.5,"v":-71},{"t":2021.58,"v":-85},{"t":2021.7,"v":-98},{"t":2021.81,"v":-71},{"t":2021.91,"v":-93},{"t":2022.01,"v":-76},{"t":2022.09,"v":-91},{"t":2022.16,"v":-78},{"t":2022.28,"v":-95},{"t":2022.39,"v":-87},{"t":2022.49,"v":-81},{"t":2022.63,"v":-50},{"t":2022.7,"v":-93},{"t":2022.82,"v":-102},{"t":2022.9,"v":-110},{"t":2022.97,"v":-95}],
"cB":[{"t":2003.12,"v":10},{"t":2003.27,"v":2},{"t":2003.37,"v":20},{"t":2003.53,"v":9},{"t":2003.68,"v":30},{"t":2003.79,"v":23},{"t":2003.9,"v":34},{"t":2004.01,"v":30},{"t":2004.12,"v":20},{"t":2004.27,"v":19},{"t":2004.35,"v":12},{"t":2004.44,"v":16},{"t":2004.53,"v":28},{"t":2004.65,"v":1},{"t":2004.78,"v":-16},{"t":2004.9,"v":-9},{"t":2005.02,"v":-17},{"t":2005.13,"v":-2},{"t":2005.28,"v":-9},{"t":2005.45,"v":38},{"t":2005.54,"v":23},{"t":2005.69,"v":12},{"t":2005.8,"v":2},{"t":2005.91,"v":14},{"t":2006.02,"v":-9},{"t":2006.14,"v":7},{"t":2006.25,"v":-3},{"t":2006.4,"v":-1},{"t":2006.5,"v":-9},{"t":2006.66,"v":0},{"t":2006.77,"v":-9},{"t":2006.88,"v":-31},{"t":2006.99,"v":-12},{"t":2007.1,"v":-19},{"t":2007.22,"v":-12},{"t":2007.37,"v":-42},{"t":2007.44,"v":-7},{"t":2007.55,"v":14},{"t":2007.66,"v":-2},{"t":2007.81,"v":1},{"t":2007.92,"v":-21},{"t":2008.04,"v":-26},{"t":2008.15,"v":-14},{"t":2008.26,"v":-9},{"t":2008.37,"v":-36},{"t":2008.52,"v":14},{"t":2008.63,"v":-7},{"t":2008.78,"v":10},{"t":2008.89,"v":-9},{"t":2009.0,"v":-2},{"t":2009.12,"v":-19},{"t":2009.26,"v":-9},{"t":2009.41,"v":-15},{"t":2009.56,"v":12},{"t":2009.67,"v":-9},{"t":2009.78,"v":23},{"t":2009.9,"v":38},{"t":2010.0,"v":35},{"t":2010.12,"v":33},{"t":2010.23,"v":20},{"t":2010.34,"v":40},{"t":2010.46,"v":57},{"t":2010.53,"v":48},{"t":2010.64,"v":7},{"t":2010.71,"v":-2},{"t":2010.82,"v":-5},{"t":2010.93,"v":-42},{"t":2011.04,"v":-30},{"t":2011.15,"v":-41},{"t":2011.26,"v":-29},{"t":2011.38,"v":-40},{"t":2011.5,"v":-7},{"t":2011.63,"v":2},{"t":2011.78,"v":-15},{"t":2011.94,"v":-16},{"t":2012.13,"v":-49},{"t":2012.25,"v":-6},{"t":2012.44,"v":-5},{"t":2012.62,"v":37},{"t":2012.71,"v":5},{"t":2012.83,"v":9},{"t":2012.96,"v":-12},{"t":2013.06,"v":2},{"t":2013.25,"v":5},{"t":2013.37,"v":7},{"t":2013.47,"v":30},{"t":2013.56,"v":31},{"t":2013.67,"v":2},{"t":2013.83,"v":-30},{"t":2014.02,"v":-38},{"t":2014.14,"v":-34},{"t":2014.25,"v":-33},{"t":2014.41,"v":-7},{"t":2014.52,"v":-7},{"t":2014.7,"v":-33},{"t":2014.91,"v":-16},{"t":2015.04,"v":0},{"t":2015.14,"v":-27},{"t":2015.26,"v":-20},{"t":2015.41,"v":-16},{"t":2015.53,"v":28},{"t":2015.64,"v":-31},{"t":2015.76,"v":-26},{"t":2015.97,"v":-73},{"t":2016.1,"v":-20},{"t":2016.2,"v":-47},{"t":2016.3,"v":-35},{"t":2016.45,"v":-31},{"t":2016.57,"v":-51},{"t":2016.68,"v":-60},{"t":2016.8,"v":-79},{"t":2016.92,"v":-108},{"t":2017.05,"v":-62},{"t":2017.22,"v":-62},{"t":2017.32,"v":-98},{"t":2017.43,"v":-31},{"t":2018.46,"v":-27},{"t":2018.54,"v":-16},{"t":2018.65,"v":-23},{"t":2018.84,"v":-44},{"t":2018.92,"v":-35},{"t":2019.04,"v":-9},{"t":2019.11,"v":19},{"t":2019.19,"v":-1},{"t":2019.31,"v":7},{"t":2019.42,"v":26},{"t":2019.54,"v":58},{"t":2019.62,"v":26},{"t":2019.73,"v":9},{"t":2019.85,"v":2},{"t":2019.96,"v":0},{"t":2020.08,"v":5},{"t":2020.19,"v":14},{"t":2020.35,"v":7},{"t":2020.54,"v":42},{"t":2020.66,"v":12},{"t":2020.77,"v":-19},{"t":2020.85,"v":-43},{"t":2020.97,"v":-55},{"t":2021.08,"v":-41},{"t":2021.2,"v":-16},{"t":2021.31,"v":-23},{"t":2021.45,"v":0},{"t":2021.58,"v":-23},{"t":2021.7,"v":-52},{"t":2021.81,"v":-57},{"t":2021.93,"v":-53},{"t":2022.03,"v":-78},{"t":2022.12,"v":-51},{"t":2022.24,"v":-58},{"t":2022.36,"v":-52},{"t":2022.43,"v":-58},{"t":2022.51,"v":-49},{"t":2022.63,"v":-90},{"t":2022.7,"v":-90},{"t":2022.8,"v":-120},{"t":2022.9,"v":-119},{"t":2022.97,"v":-103}],
"cR":[{"t":2003.12,"v":16},{"t":2003.23,"v":12},{"t":2003.37,"v":21},{"t":2003.53,"v":26},{"t":2003.62,"v":26},{"t":2003.7,"v":44},{"t":2003.79,"v":19},{"t":2003.9,"v":8},{"t":2004.01,"v":20},{"t":2004.12,"v":16},{"t":2004.24,"v":12},{"t":2004.31,"v":23},{"t":2004.46,"v":2},{"t":2004.56,"v":30},{"t":2004.65,"v":16},{"t":2004.76,"v":24},{"t":2004.87,"v":14},{"t":2005.02,"v":2},{"t":2005.2,"v":12},{"t":2005.35,"v":21},{"t":2005.46,"v":30},{"t":2005.58,"v":16},{"t":2005.76,"v":-12},{"t":2005.91,"v":-19},{"t":2006.05,"v":-33},{"t":2006.14,"v":-17},{"t":2006.29,"v":-19},{"t":2006.43,"v":-9},{"t":2006.55,"v":-2},{"t":2006.66,"v":-9},{"t":2006.81,"v":-14},{"t":2006.96,"v":-10},{"t":2007.1,"v":-16},{"t":2007.29,"v":-2},{"t":2007.4,"v":-9},{"t":2007.55,"v":1},{"t":2007.7,"v":-5},{"t":2007.85,"v":-19},{"t":2007.96,"v":-12},{"t":2008.07,"v":-21},{"t":2008.18,"v":-5},{"t":2008.37,"v":-2},{"t":2008.52,"v":7},{"t":2008.67,"v":10},{"t":2008.78,"v":1},{"t":2008.89,"v":-7},{"t":2009.0,"v":-5},{"t":2009.12,"v":-9},{"t":2009.3,"v":2},{"t":2009.45,"v":5},{"t":2009.55,"v":24},{"t":2009.67,"v":5},{"t":2009.78,"v":-9},{"t":2009.93,"v":-7},{"t":2010.08,"v":-9},{"t":2010.23,"v":-1},{"t":2010.41,"v":22},{"t":2010.53,"v":7},{"t":2010.72,"v":-9},{"t":2010.85,"v":-7},{"t":2011.04,"v":-9},{"t":2011.2,"v":-2},{"t":2011.35,"v":-7},{"t":2011.5,"v":1},{"t":2011.55,"v":14},{"t":2011.71,"v":-9},{"t":2011.86,"v":-7},{"t":2012.02,"v":-5},{"t":2012.13,"v":-23},{"t":2012.25,"v":-12},{"t":2012.4,"v":-5},{"t":2012.52,"v":-6},{"t":2012.63,"v":7},{"t":2012.75,"v":12},{"t":2012.86,"v":1},{"t":2012.96,"v":-34},{"t":2013.1,"v":-21},{"t":2013.25,"v":-12},{"t":2013.4,"v":-5},{"t":2013.52,"v":22},{"t":2013.64,"v":-12},{"t":2013.79,"v":-30},{"t":2013.91,"v":-19},{"t":2014.02,"v":-22},{"t":2014.14,"v":-26},{"t":2014.27,"v":-29},{"t":2014.39,"v":-5},{"t":2014.52,"v":-12},{"t":2014.64,"v":-17},{"t":2014.87,"v":-26},{"t":2015.1,"v":-35},{"t":2015.26,"v":-28},{"t":2015.41,"v":-23},{"t":2015.56,"v":-21},{"t":2015.72,"v":-35},{"t":2015.95,"v":-47},{"t":2016.1,"v":-37},{"t":2016.26,"v":-37},{"t":2016.49,"v":-16},{"t":2016.63,"v":-45},{"t":2016.8,"v":-43},{"t":2016.95,"v":-44},{"t":2017.07,"v":-40},{"t":2017.22,"v":-56},{"t":2017.38,"v":-41},{"t":2018.46,"v":-31},{"t":2018.54,"v":-23},{"t":2018.65,"v":-28},{"t":2018.77,"v":-31},{"t":2018.88,"v":-49},{"t":2019.0,"v":-35},{"t":2019.15,"v":-21},{"t":2019.23,"v":-35},{"t":2019.35,"v":-7},{"t":2019.5,"v":-9},{"t":2019.61,"v":-19},{"t":2019.73,"v":-36},{"t":2019.92,"v":-16},{"t":2020.12,"v":-10},{"t":2020.27,"v":-17},{"t":2020.43,"v":-12},{"t":2020.58,"v":-14},{"t":2020.7,"v":-12},{"t":2020.81,"v":-37},{"t":2020.93,"v":-45},{"t":2021.04,"v":-34},{"t":2021.16,"v":-30},{"t":2021.27,"v":-36},{"t":2021.39,"v":-24},{"t":2021.5,"v":-35},{"t":2021.58,"v":-47},{"t":2021.7,"v":-55},{"t":2021.8,"v":-30},{"t":2021.89,"v":-52},{"t":2021.98,"v":-35},{"t":2022.09,"v":-52},{"t":2022.16,"v":-35},{"t":2022.28,"v":-53},{"t":2022.39,"v":-51},{"t":2022.49,"v":-37},{"t":2022.63,"v":-17},{"t":2022.7,"v":-47},{"t":2022.82,"v":-58},{"t":2022.9,"v":-66},{"t":2022.97,"v":-52}],
"pa":[{"t":2003.5,"p":-25.6},{"t":2004.5,"p":-41.6},{"t":2005.5,"p":3},{"t":2006.5,"p":-40},{"t":2007.5,"p":33.3},{"t":2008.5,"p":-33.5},{"t":2009.5,"p":-9.8},{"t":2010.5,"p":-26},{"t":2011.5,"p":-29},{"t":2012.5,"p":5.3},{"t":2013.5,"p":-76.5},{"t":2014.5,"p":13.5},{"t":2015.5,"p":-59.8},{"t":2016.5,"p":43.7},{"t":2017.5,"p":41.9},{"t":2018.5,"p":109.3},{"t":2019.5,"p":49.5},{"t":2020.5,"p":7.7},{"t":2021.5,"p":31.4},{"t":2022.5,"p":3}],
"pb":[{"t":2003.5,"p":-31},{"t":2004.5,"p":-34.1},{"t":2005.5,"p":1},{"t":2006.5,"p":-35.2},{"t":2007.5,"p":34.6},{"t":2008.5,"p":-22.5},{"t":2009.5,"p":-1},{"t":2010.5,"p":-5.9},{"t":2011.5,"p":-31},{"t":2012.5,"p":16.6},{"t":2013.5,"p":-66.2},{"t":2014.5,"p":-2.3},{"t":2015.5,"p":-39.2},{"t":2016.5,"p":22.8},{"t":2017.5,"p":35.5},{"t":2018.5,"p":81.4},{"t":2019.5,"p":49.9},{"t":2020.5,"p":-4.3},{"t":2021.5,"p":29},{"t":2022.5,"p":-1}],
"pc":[{"t":2003.5,"p":-24.4},{"t":2004.5,"p":-38.4},{"t":2005.5,"p":1},{"t":2006.5,"p":-48.8},{"t":2007.5,"p":35.6},{"t":2008.5,"p":-33.7},{"t":2009.5,"p":-9.8},{"t":2010.5,"p":-26.7},{"t":2011.5,"p":-24},{"t":2012.5,"p":33.3},{"t":2013.5,"p":-70.2},{"t":2014.5,"p":-5.8},{"t":2015.5,"p":-73.7},{"t":2016.5,"p":10.9},{"t":2017.5,"p":23.7},{"t":2018.5,"p":135.3},{"t":2019.5,"p":55.1},{"t":2020.5,"p":43},{"t":2021.5,"p":31.9},{"t":2022.5,"p":-20.2}],
"dD":[{"ring":"o","comp":"LRWS","k":1,"f":0.5241},{"ring":"o","comp":"SMS","k":2,"f":0.0479},{"ring":"o","comp":"SWE","k":3,"f":0.005},{"ring":"o","comp":"CWS","k":4,"f":0.0001},{"ring":"o","comp":"GWS","k":5,"f":0.4229},{"ring":"i","comp":"LRWS","k":1,"f":0.5081},{"ring":"i","comp":"SMS","k":2,"f":0.0465},{"ring":"i","comp":"SWE","k":3,"f":0.0048},{"ring":"i","comp":"CWS","k":4,"f":0.0001},{"ring":"i","comp":"GWS","k":5,"f":0.4405}],
"dE":[{"ring":"o","comp":"LRWS","k":1,"f":0.4949},{"ring":"o","comp":"SMS","k":2,"f":0.062},{"ring":"o","comp":"SWE","k":3,"f":0.0086},{"ring":"o","comp":"CWS","k":4,"f":0.0001},{"ring":"o","comp":"GWS","k":5,"f":0.4344},{"ring":"i","comp":"LRWS","k":1,"f":0.5022},{"ring":"i","comp":"SMS","k":2,"f":0.0629},{"ring":"i","comp":"SWE","k":3,"f":0.0088},{"ring":"i","comp":"CWS","k":4,"f":0.0001},{"ring":"i","comp":"GWS","k":5,"f":0.4261}],
"dF":[{"ring":"o","comp":"LRWS","k":1,"f":0.4763},{"ring":"o","comp":"SMS","k":2,"f":0.1103},{"ring":"o","comp":"SWE","k":3,"f":0.0136},{"ring":"o","comp":"CWS","k":4,"f":0.0003},{"ring":"o","comp":"GWS","k":5,"f":0.3995},{"ring":"i","comp":"LRWS","k":1,"f":0.5459},{"ring":"i","comp":"SMS","k":2,"f":0.1264},{"ring":"i","comp":"SWE","k":3,"f":0.0156},{"ring":"i","comp":"CWS","k":4,"f":0.0003},{"ring":"i","comp":"GWS","k":5,"f":0.3117}]
},
"bounds":"flush",
"columns":2,
"spacing":{"row":95,"column":293},
"concat":[
{"width":2397,"height":740,"view":{"stroke":"#000000","strokeWidth":4.5},
"title":{"text":"(a)CIRC9","subtitle":"\u00a0\u00a0SH-CFM γ: 0.67\u00a0\u00a0\u00a0\u00a0\u00a0\u00a0\u00a0Mascon γ: 0.84","orient":"top","anchor":"start","frame":"group","offset":-742,"dx":27,"fontSize":74,"fontWeight":"normal","color":"#000000","subtitleFontSize":57,"subtitleColor":"#000000","subtitlePadding":498},
"layer":[
{"encoding":{
"x":{"field":"t","type":"quantitative","scale":{"domain":[2003,2023],"nice":false,"zero":false},"axis":{"orient":"bottom","values":[2004,2005,2006,2007,2008,2009,2010,2011,2012,2013,2014,2015,2016,2017,2018,2019,2020,2021,2022],"format":"d","labels":false,"domain":false,"grid":false,"offset":-21,"tickSize":{"condition":{"test":"datum.value % 2 == 0","value":42},"value":21},"tickWidth":4,"tickColor":"#000000","title":null}},
"y":{"field":"v","type":"quantitative","scale":{"domain":[-300,300],"nice":false,"zero":false},"axis":{"orient":"left","values":[-240,-180,-120,-60,0,60,120,180,240],"labelExpr":"datum.value % 120 == 0 ? datum.label : ''","domain":false,"grid":true,"gridColor":"#C8C8C8","gridDash":[18,10],"gridWidth":2.5,"gridOpacity":{"condition":{"test":"datum.value % 120 == 0","value":0},"value":1},"tickSize":{"condition":{"test":"datum.value % 120 == 0","value":-22},"value":-11},"tickWidth":4,"tickColor":"#000000","labelFontSize":55,"labelColor":"#000000","labelPadding":46,"labelOverlap":false,"labelFlush":false,"title":null}}},
"layer":[
{"data":{"name":"aL"},"mark":{"type":"line","strokeWidth":3.5},"encoding":{"stroke":{"datum":"LRWS","type":"nominal","scale":{"domain":["LRWS","SMS","SWE","CWS","SH-CFM GWS","Mascon GWS"],"range":["#000000","#00FF00","#0000FF","#FFA500","#8B4513","#FF0000"]},"legend":{"orient":"none","legendX":-5,"legendY":2510,"direction":"horizontal","title":null,"symbolType":"stroke","symbolSize":18225,"symbolStrokeWidth":4.5,"labelFontSize":58,"labelOffset":12,"columnPadding":24,"labelColor":"#000000","labelLimit":0,"padding":0}}}},
{"data":{"name":"aS"},"mark":{"type":"line","strokeWidth":3.5},"encoding":{"stroke":{"datum":"SMS","type":"nominal","scale":{"domain":["LRWS","SMS","SWE","CWS","SH-CFM GWS","Mascon GWS"],"range":["#000000","#00FF00","#0000FF","#FFA500","#8B4513","#FF0000"]},"legend":null}}},
{"data":{"name":"aW"},"mark":{"type":"line","strokeWidth":3.5},"encoding":{"stroke":{"datum":"SWE","type":"nominal","scale":{"domain":["LRWS","SMS","SWE","CWS","SH-CFM GWS","Mascon GWS"],"range":["#000000","#00FF00","#0000FF","#FFA500","#8B4513","#FF0000"]},"legend":null}}},
{"data":{"name":"aB"},"mark":{"type":"line","strokeWidth":3.5},"encoding":{"stroke":{"datum":"SH-CFM GWS","type":"nominal","scale":{"domain":["LRWS","SMS","SWE","CWS","SH-CFM GWS","Mascon GWS"],"range":["#000000","#00FF00","#0000FF","#FFA500","#8B4513","#FF0000"]},"legend":null}}},
{"data":{"name":"aR"},"mark":{"type":"line","strokeWidth":3.5},"encoding":{"stroke":{"datum":"Mascon GWS","type":"nominal","scale":{"domain":["LRWS","SMS","SWE","CWS","SH-CFM GWS","Mascon GWS"],"range":["#000000","#00FF00","#0000FF","#FFA500","#8B4513","#FF0000"]},"legend":null}}},
{"data":{"name":"zC"},"mark":{"type":"line","strokeWidth":3.5},"encoding":{"stroke":{"datum":"CWS","type":"nominal","scale":{"domain":["LRWS","SMS","SWE","CWS","SH-CFM GWS","Mascon GWS"],"range":["#000000","#00FF00","#0000FF","#FFA500","#8B4513","#FF0000"]},"legend":null}}}
]},
{"data":{"name":"pa"},"mark":{"type":"bar","orient":"vertical","size":96,"opacity":0.5},
"encoding":{
"x":{"field":"t","type":"quantitative","scale":{"domain":[2003,2023],"nice":false,"zero":false},"axis":{"orient":"top","values":[2004,2005,2006,2007,2008,2009,2010,2011,2012,2013,2014,2015,2016,2017,2018,2019,2020,2021,2022],"format":"d","labelExpr":"datum.value % 2 == 0 ? datum.label : ''","labelFontSize":55,"labelColor":"#000000","labelPadding":16,"labelOverlap":false,"labelFlush":false,"domain":false,"grid":false,"offset":-21,"tickSize":{"condition":{"test":"datum.value % 2 == 0","value":42},"value":21},"tickWidth":4,"tickColor":"#000000","title":null}},
"y":{"field":"p","type":"quantitative","scale":{"domain":[-150,150],"nice":false,"zero":false},"axis":{"orient":"right","values":[-120,-90,-60,-30,0,30,60,90,120],"labelExpr":"datum.value % 60 == 0 ? datum.label : ''","domain":true,"domainColor":"#7070FF","domainWidth":5,"grid":false,"tickSize":{"condition":{"test":"datum.value % 60 == 0","value":-22},"value":-11},"tickWidth":4,"tickColor":"#7070FF","labelFontSize":55,"labelColor":"#000000","labelPadding":50,"labelOverlap":false,"labelFlush":false,"title":null}},
"fill":{"datum":"Precipitation","type":"nominal","scale":{"domain":["Precipitation"],"range":["#0000FF"]},"legend":{"orient":"none","legendX":-5,"legendY":2624,"title":null,"symbolType":"M-1,-0.484H1V0.484H-1Z","symbolSize":15376,"symbolOpacity":0.5,"symbolStrokeWidth":0,"labelFontSize":58,"labelOffset":22,"labelLimit":0,"labelColor":"#000000","padding":0}}}}
],
"resolve":{"scale":{"y":"independent"},"axis":{"x":"independent","y":"independent"}}},

{"width":736,"height":740,"view":{"stroke":null},
"title":{"text":"(d)","orient":"top","anchor":"start","frame":"group","offset":-156,"dx":28,"fontSize":66,"fontWeight":"normal","baseline":"alphabetic","color":"#000000"},
"data":{"name":"dD"},
"encoding":{"theta":{"field":"f","type":"quantitative","stack":true,"scale":{"domain":[0,1]}},"order":{"field":"k","type":"quantitative"},"color":{"field":"comp","type":"nominal","scale":{"domain":["SMS","SWE","CWS","GWS","LRWS"],"range":["#FFEE78","#F4F5D9","#FF9900","#709660","#40C0D0"]},"legend":null}},
"layer":[
{"transform":[{"filter":"datum.ring == 'o'"}],"mark":{"type":"arc","radius":304,"radius2":234,"stroke":"#FFFFFF","strokeWidth":4},
"encoding":{"color":{"field":"comp","type":"nominal","scale":{"domain":["SMS","SWE","CWS","GWS","LRWS"],"range":["#FFEE78","#F4F5D9","#FF9900","#709660","#40C0D0"]},"legend":{"orient":"none","legendX":3441,"legendY":1541,"direction":"vertical","title":null,"symbolType":"M-1,0.677H1V1.58H-1Z","symbolSize":15376,"symbolStrokeWidth":0,"symbolOpacity":1,"labelFontSize":58,"labelOffset":-124,"labelBaseline":"alphabetic","labelColor":"#000000","labelLimit":0,"rowPadding":24,"padding":0}}}},
{"transform":[{"filter":"datum.ring == 'i'"}],"mark":{"type":"arc","radius":230,"radius2":156,"stroke":"#FFFFFF","strokeWidth":4}},
{"transform":[{"filter":"datum.ring == 'o'"}],"mark":{"type":"text","align":"center","baseline":"middle","radius":{"expr":"datum.f >= 0.02 ? 269 : 360"},"fontSize":{"expr":"datum.f >= 0.02 ? 56 : 34"},"dx":{"expr":"datum.comp == 'LRWS' ? 2 : datum.comp == 'SMS' ? 32 : datum.comp == 'SWE' ? 88 : datum.comp == 'CWS' ? -62 : -14"},"dy":{"expr":"datum.comp == 'LRWS' ? -80 : datum.comp == 'SMS' ? 17 : datum.comp == 'SWE' ? -1 : datum.comp == 'CWS' ? -28 : 53"}},"encoding":{"text":{"field":"f","type":"quantitative","format":".2~%"},"fill":{"value":"#000000"}}},
{"transform":[{"filter":"datum.ring == 'i'"}],"mark":{"type":"text","align":"center","baseline":"middle","radius":{"expr":"datum.f >= 0.02 ? 193 : 110"},"fontSize":{"expr":"datum.f >= 0.02 ? 56 : 34"},"dx":{"expr":"datum.comp == 'LRWS' ? 0 : datum.comp == 'SMS' ? 12 : datum.comp == 'SWE' ? 45 : datum.comp == 'CWS' ? -33 : 21"},"dy":{"expr":"datum.comp == 'LRWS' ? 34 : datum.comp == 'SMS' ? 22 : datum.comp == 'SWE' ? 17 : datum.comp == 'CWS' ? -32 : -34"}},"encoding":{"text":{"field":"f","type":"quantitative","format":".2~%"},"fill":{"value":"#000000"}}}
]},

{"width":2397,"height":740,"view":{"stroke":"#000000","strokeWidth":4.5},
"title":{"text":"(b)CIRC20","subtitle":"\u00a0\u00a0SH-CFM γ: 0.63\u00a0\u00a0\u00a0\u00a0\u00a0\u00a0\u00a0Mascon γ: 0.74","orient":"top","anchor":"start","frame":"group","offset":-806,"dx":27,"fontSize":74,"fontWeight":"normal","color":"#000000","subtitleFontSize":57,"subtitleColor":"#000000","subtitlePadding":490},
"layer":[
{"encoding":{
"x":{"field":"t","type":"quantitative","scale":{"domain":[2003,2023],"nice":false,"zero":false},"axis":{"orient":"bottom","values":[2004,2005,2006,2007,2008,2009,2010,2011,2012,2013,2014,2015,2016,2017,2018,2019,2020,2021,2022],"format":"d","labels":false,"domain":false,"grid":false,"offset":-21,"tickSize":{"condition":{"test":"datum.value % 2 == 0","value":42},"value":21},"tickWidth":4,"tickColor":"#000000","title":null}},
"y":{"field":"v","type":"quantitative","scale":{"domain":[-200,200],"nice":false,"zero":false},"axis":{"orient":"left","values":[-200,-150,-100,-50,0,50,100,150,200],"labelExpr":"datum.value % 100 == 0 ? datum.label : ''","domain":false,"grid":true,"gridColor":"#C8C8C8","gridDash":[18,10],"gridWidth":2.5,"gridOpacity":{"condition":{"test":"datum.value % 100 == 0","value":0},"value":1},"tickSize":{"condition":{"test":"datum.value % 100 == 0","value":-22},"value":-11},"tickWidth":4,"tickColor":"#000000","labelFontSize":55,"labelColor":"#000000","labelPadding":46,"labelOverlap":false,"labelFlush":false,"title":"TWS components [mm]","titleFontSize":65,"titleFontWeight":"normal","titleColor":"#000000","titlePadding":20}}},
"layer":[
{"data":{"name":"bL"},"mark":{"type":"line","strokeWidth":3.5},"encoding":{"stroke":{"datum":"LRWS","type":"nominal","scale":{"domain":["LRWS","SMS","SWE","CWS","SH-CFM GWS","Mascon GWS"],"range":["#000000","#00FF00","#0000FF","#FFA500","#8B4513","#FF0000"]},"legend":null}}},
{"data":{"name":"bS"},"mark":{"type":"line","strokeWidth":3.5},"encoding":{"stroke":{"datum":"SMS","type":"nominal","scale":{"domain":["LRWS","SMS","SWE","CWS","SH-CFM GWS","Mascon GWS"],"range":["#000000","#00FF00","#0000FF","#FFA500","#8B4513","#FF0000"]},"legend":null}}},
{"data":{"name":"bW"},"mark":{"type":"line","strokeWidth":3.5},"encoding":{"stroke":{"datum":"SWE","type":"nominal","scale":{"domain":["LRWS","SMS","SWE","CWS","SH-CFM GWS","Mascon GWS"],"range":["#000000","#00FF00","#0000FF","#FFA500","#8B4513","#FF0000"]},"legend":null}}},
{"data":{"name":"bB"},"mark":{"type":"line","strokeWidth":3.5},"encoding":{"stroke":{"datum":"SH-CFM GWS","type":"nominal","scale":{"domain":["LRWS","SMS","SWE","CWS","SH-CFM GWS","Mascon GWS"],"range":["#000000","#00FF00","#0000FF","#FFA500","#8B4513","#FF0000"]},"legend":null}}},
{"data":{"name":"bR"},"mark":{"type":"line","strokeWidth":3.5},"encoding":{"stroke":{"datum":"Mascon GWS","type":"nominal","scale":{"domain":["LRWS","SMS","SWE","CWS","SH-CFM GWS","Mascon GWS"],"range":["#000000","#00FF00","#0000FF","#FFA500","#8B4513","#FF0000"]},"legend":null}}},
{"data":{"name":"zC"},"mark":{"type":"line","strokeWidth":3.5},"encoding":{"stroke":{"datum":"CWS","type":"nominal","scale":{"domain":["LRWS","SMS","SWE","CWS","SH-CFM GWS","Mascon GWS"],"range":["#000000","#00FF00","#0000FF","#FFA500","#8B4513","#FF0000"]},"legend":null}}}
]},
{"data":{"name":"pb"},"mark":{"type":"bar","orient":"vertical","size":96,"opacity":0.5},
"encoding":{
"x":{"field":"t","type":"quantitative","scale":{"domain":[2003,2023],"nice":false,"zero":false},"axis":{"orient":"top","values":[2004,2005,2006,2007,2008,2009,2010,2011,2012,2013,2014,2015,2016,2017,2018,2019,2020,2021,2022],"format":"d","labels":false,"domain":false,"grid":false,"offset":-21,"tickSize":{"condition":{"test":"datum.value % 2 == 0","value":42},"value":21},"tickWidth":4,"tickColor":"#000000","title":null}},
"y":{"field":"p","type":"quantitative","scale":{"domain":[-100,100],"nice":false,"zero":false},"axis":{"orient":"right","values":[-100,-75,-50,-25,0,25,50,75,100],"labelExpr":"datum.value % 50 == 0 ? datum.label : ''","domain":true,"domainColor":"#7070FF","domainWidth":5,"grid":false,"tickSize":{"condition":{"test":"datum.value % 50 == 0","value":-22},"value":-11},"tickWidth":4,"tickColor":"#7070FF","labelFontSize":55,"labelColor":"#000000","labelPadding":50,"labelOverlap":false,"labelFlush":false,"title":"Annual precipitation anomalies [mm]","titleFontSize":65,"titleFontWeight":"normal","titleColor":"#000000","titlePadding":-12}},
"fill":{"datum":"Precipitation","type":"nominal","scale":{"domain":["Precipitation"],"range":["#0000FF"]},"legend":null}}}
],
"resolve":{"scale":{"y":"independent"},"axis":{"x":"independent","y":"independent"}}},

{"width":736,"height":740,"view":{"stroke":null},
"title":{"text":"(e)","orient":"top","anchor":"start","frame":"group","offset":-144,"dx":28,"fontSize":66,"fontWeight":"normal","baseline":"alphabetic","color":"#000000"},
"data":{"name":"dE"},
"encoding":{"theta":{"field":"f","type":"quantitative","stack":true,"scale":{"domain":[0,1]}},"order":{"field":"k","type":"quantitative"},"color":{"field":"comp","type":"nominal","scale":{"domain":["SMS","SWE","CWS","GWS","LRWS"],"range":["#FFEE78","#F4F5D9","#FF9900","#709660","#40C0D0"]},"legend":null}},
"layer":[
{"transform":[{"filter":"datum.ring == 'o'"}],"mark":{"type":"arc","radius":304,"radius2":234,"stroke":"#FFFFFF","strokeWidth":4}},
{"transform":[{"filter":"datum.ring == 'i'"}],"mark":{"type":"arc","radius":230,"radius2":156,"stroke":"#FFFFFF","strokeWidth":4}},
{"transform":[{"filter":"datum.ring == 'o'"}],"mark":{"type":"text","align":"center","baseline":"middle","radius":{"expr":"datum.f >= 0.02 ? 269 : 360"},"fontSize":{"expr":"datum.f >= 0.02 ? 56 : 34"},"dx":{"expr":"datum.comp == 'LRWS' ? 11 : datum.comp == 'SMS' ? 25 : datum.comp == 'SWE' ? 96 : datum.comp == 'CWS' ? -107 : -18"},"dy":{"expr":"datum.comp == 'LRWS' ? -59 : datum.comp == 'SMS' ? 7 : datum.comp == 'SWE' ? -11 : datum.comp == 'CWS' ? -34 : 63"}},"encoding":{"text":{"field":"f","type":"quantitative","format":".2~%"},"fill":{"value":"#000000"}}},
{"transform":[{"filter":"datum.ring == 'i'"}],"mark":{"type":"text","align":"center","baseline":"middle","radius":{"expr":"datum.f >= 0.02 ? 193 : 110"},"fontSize":{"expr":"datum.f >= 0.02 ? 56 : 34"},"dx":{"expr":"datum.comp == 'LRWS' ? 0 : datum.comp == 'SMS' ? 12 : datum.comp == 'SWE' ? 80 : datum.comp == 'CWS' ? -14 : 11"},"dy":{"expr":"datum.comp == 'LRWS' ? 3 : datum.comp == 'SMS' ? 11 : datum.comp == 'SWE' ? -4 : datum.comp == 'CWS' ? -28 : -3"}},"encoding":{"text":{"field":"f","type":"quantitative","format":".2~%"},"fill":{"value":"#000000"}}}
]},

{"width":2397,"height":740,"view":{"stroke":"#000000","strokeWidth":4.5},
"title":{"text":"(c)MASC22","subtitle":"\u00a0\u00a0SH-CFM γ: 0.48\u00a0\u00a0\u00a0\u00a0\u00a0\u00a0\u00a0Mascon γ: 0.50","orient":"top","anchor":"start","frame":"group","offset":-695,"dx":27,"fontSize":74,"fontWeight":"normal","color":"#000000","subtitleFontSize":57,"subtitleColor":"#000000","subtitlePadding":509},
"layer":[
{"encoding":{
"x":{"field":"t","type":"quantitative","scale":{"domain":[2003,2023],"nice":false,"zero":false},"axis":{"orient":"bottom","values":[2004,2005,2006,2007,2008,2009,2010,2011,2012,2013,2014,2015,2016,2017,2018,2019,2020,2021,2022],"format":"d","labelExpr":"datum.value % 2 == 0 ? datum.label : ''","labelFontSize":55,"labelColor":"#000000","labelPadding":10,"labelOverlap":false,"labelFlush":false,"domain":false,"grid":false,"offset":-21,"tickSize":{"condition":{"test":"datum.value % 2 == 0","value":42},"value":21},"tickWidth":4,"tickColor":"#000000","title":null}},
"y":{"field":"v","type":"quantitative","scale":{"domain":[-150,150],"nice":false,"zero":false},"axis":{"orient":"left","values":[-150,-112.5,-75,-37.5,0,37.5,75,112.5,150],"labelExpr":"datum.value % 75 == 0 ? datum.label : ''","domain":false,"grid":true,"gridColor":"#C8C8C8","gridDash":[18,10],"gridWidth":2.5,"gridOpacity":{"condition":{"test":"datum.value % 75 == 0","value":0},"value":1},"tickSize":{"condition":{"test":"datum.value % 75 == 0","value":-22},"value":-11},"tickWidth":4,"tickColor":"#000000","labelFontSize":55,"labelColor":"#000000","labelPadding":46,"labelOverlap":false,"labelFlush":false,"title":null}}},
"layer":[
{"data":{"name":"cL"},"mark":{"type":"line","strokeWidth":3.5},"encoding":{"stroke":{"datum":"LRWS","type":"nominal","scale":{"domain":["LRWS","SMS","SWE","CWS","SH-CFM GWS","Mascon GWS"],"range":["#000000","#00FF00","#0000FF","#FFA500","#8B4513","#FF0000"]},"legend":null}}},
{"data":{"name":"cS"},"mark":{"type":"line","strokeWidth":3.5},"encoding":{"stroke":{"datum":"SMS","type":"nominal","scale":{"domain":["LRWS","SMS","SWE","CWS","SH-CFM GWS","Mascon GWS"],"range":["#000000","#00FF00","#0000FF","#FFA500","#8B4513","#FF0000"]},"legend":null}}},
{"data":{"name":"cW"},"mark":{"type":"line","strokeWidth":3.5},"encoding":{"stroke":{"datum":"SWE","type":"nominal","scale":{"domain":["LRWS","SMS","SWE","CWS","SH-CFM GWS","Mascon GWS"],"range":["#000000","#00FF00","#0000FF","#FFA500","#8B4513","#FF0000"]},"legend":null}}},
{"data":{"name":"cB"},"mark":{"type":"line","strokeWidth":3.5},"encoding":{"stroke":{"datum":"SH-CFM GWS","type":"nominal","scale":{"domain":["LRWS","SMS","SWE","CWS","SH-CFM GWS","Mascon GWS"],"range":["#000000","#00FF00","#0000FF","#FFA500","#8B4513","#FF0000"]},"legend":null}}},
{"data":{"name":"cR"},"mark":{"type":"line","strokeWidth":3.5},"encoding":{"stroke":{"datum":"Mascon GWS","type":"nominal","scale":{"domain":["LRWS","SMS","SWE","CWS","SH-CFM GWS","Mascon GWS"],"range":["#000000","#00FF00","#0000FF","#FFA500","#8B4513","#FF0000"]},"legend":null}}},
{"data":{"name":"zC"},"mark":{"type":"line","strokeWidth":3.5},"encoding":{"stroke":{"datum":"CWS","type":"nominal","scale":{"domain":["LRWS","SMS","SWE","CWS","SH-CFM GWS","Mascon GWS"],"range":["#000000","#00FF00","#0000FF","#FFA500","#8B4513","#FF0000"]},"legend":null}}}
]},
{"data":{"name":"pc"},"mark":{"type":"bar","orient":"vertical","size":96,"opacity":0.5},
"encoding":{
"x":{"field":"t","type":"quantitative","scale":{"domain":[2003,2023],"nice":false,"zero":false},"axis":{"orient":"top","values":[2004,2005,2006,2007,2008,2009,2010,2011,2012,2013,2014,2015,2016,2017,2018,2019,2020,2021,2022],"format":"d","labels":false,"domain":false,"grid":false,"offset":-21,"tickSize":{"condition":{"test":"datum.value % 2 == 0","value":42},"value":21},"tickWidth":4,"tickColor":"#000000","title":null}},
"y":{"field":"p","type":"quantitative","scale":{"domain":[-150,150],"nice":false,"zero":false},"axis":{"orient":"right","values":[-150,-112.5,-75,-37.5,0,37.5,75,112.5,150],"labelExpr":"datum.value % 75 == 0 ? datum.label : ''","domain":true,"domainColor":"#7070FF","domainWidth":5,"grid":false,"tickSize":{"condition":{"test":"datum.value % 75 == 0","value":-22},"value":-11},"tickWidth":4,"tickColor":"#7070FF","labelFontSize":55,"labelColor":"#000000","labelPadding":50,"labelOverlap":false,"labelFlush":false,"title":null}},
"fill":{"datum":"Precipitation","type":"nominal","scale":{"domain":["Precipitation"],"range":["#0000FF"]},"legend":null}}}
],
"resolve":{"scale":{"y":"independent"},"axis":{"x":"independent","y":"independent"}}},

{"width":736,"height":740,"view":{"stroke":null},
"title":{"text":"(f)","orient":"top","anchor":"start","frame":"group","offset":-111,"dx":28,"fontSize":66,"fontWeight":"normal","baseline":"alphabetic","color":"#000000"},
"data":{"name":"dF"},
"encoding":{"theta":{"field":"f","type":"quantitative","stack":true,"scale":{"domain":[0,1]}},"order":{"field":"k","type":"quantitative"},"color":{"field":"comp","type":"nominal","scale":{"domain":["SMS","SWE","CWS","GWS","LRWS"],"range":["#FFEE78","#F4F5D9","#FF9900","#709660","#40C0D0"]},"legend":null}},
"layer":[
{"transform":[{"filter":"datum.ring == 'o'"}],"mark":{"type":"arc","radius":304,"radius2":234,"stroke":"#FFFFFF","strokeWidth":4},
"encoding":{"opacity":{"datum":"ratio","type":"nominal","scale":{"domain":["ratio"],"range":[1]},"legend":{"orient":"none","legendX":2794,"legendY":2549,"title":"Component Contribution Ratio","titleFontSize":58,"titleFontWeight":"normal","titleColor":"#000000","titleLimit":0,"titlePadding":0,"titleBaseline":"top","symbolType":"circle","symbolSize":0,"symbolOpacity":0,"symbolStrokeWidth":0,"symbolFillColor":"#FFFFFF","symbolStrokeColor":"#FFFFFF","labelOpacity":0,"labelFontSize":1,"padding":0}}}},
{"transform":[{"filter":"datum.ring == 'i'"}],"mark":{"type":"arc","radius":230,"radius2":156,"stroke":"#FFFFFF","strokeWidth":4}},
{"transform":[{"filter":"datum.ring == 'o'"}],"mark":{"type":"text","align":"center","baseline":"middle","radius":{"expr":"datum.f >= 0.02 ? 269 : 360"},"fontSize":{"expr":"datum.f >= 0.02 ? 56 : 34"},"dx":{"expr":"datum.comp == 'LRWS' ? 26 : datum.comp == 'SMS' ? 0 : datum.comp == 'SWE' ? 84 : datum.comp == 'CWS' ? -27 : -21"},"dy":{"expr":"datum.comp == 'LRWS' ? -33 : datum.comp == 'SMS' ? 1 : datum.comp == 'SWE' ? 30 : datum.comp == 'CWS' ? 3 : 36"}},"encoding":{"text":{"field":"f","type":"quantitative","format":".2~%"},"fill":{"value":"#000000"}}},
{"transform":[{"filter":"datum.ring == 'i'"}],"mark":{"type":"text","align":"center","baseline":"middle","radius":{"expr":"datum.f >= 0.02 ? 193 : 110"},"fontSize":{"expr":"datum.f >= 0.02 ? 56 : 34"},"dx":{"expr":"datum.comp == 'LRWS' ? -2 : datum.comp == 'SMS' ? 1 : datum.comp == 'SWE' ? 97 : datum.comp == 'CWS' ? 23 : 47"},"dy":{"expr":"datum.comp == 'LRWS' ? 2 : datum.comp == 'SMS' ? -5 : datum.comp == 'SWE' ? 44 : datum.comp == 'CWS' ? -5 : -4"}},"encoding":{"text":{"field":"f","type":"quantitative","format":".2~%"},"fill":{"value":"#000000"}}}
]}
]
}
